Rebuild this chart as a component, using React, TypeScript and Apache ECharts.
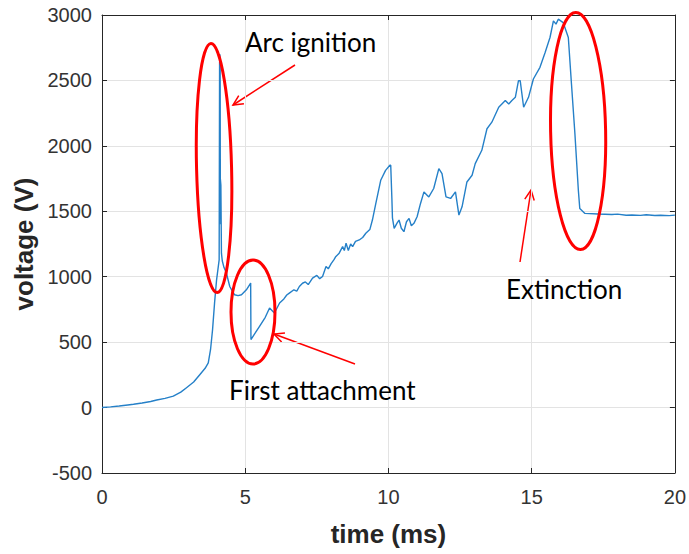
import React, { useEffect, useRef } from "react";
import * as echarts from "echarts";

// time (ms)
const times: number[] = [
  0, 0.3, 0.6, 0.9, 1.1, 1.4, 1.7, 1.91, 2.2, 2.49, 2.75, 2.95, 3.2, 3.42, 3.6, 3.71, 3.79, 3.86, 3.93, 4.0,
  4.09, 4.105, 4.11, 4.115, 4.12, 4.125, 4.13, 4.135, 4.15, 4.17, 4.2, 4.26, 4.34, 4.46, 4.55, 4.63, 4.75, 4.87,
  5.04, 5.19, 5.2, 5.35, 5.5, 5.7, 5.85, 6.02, 6.2, 6.35, 6.45, 6.54, 6.7, 6.8, 6.89, 7.0, 7.1, 7.2, 7.35, 7.5,
  7.6, 7.7, 7.82, 7.9, 8.0, 8.1, 8.15, 8.28, 8.4, 8.46, 8.52, 8.6, 8.68, 8.75, 8.85, 8.98, 9.1, 9.21, 9.35, 9.44,
  9.56, 9.73, 9.9, 10.05, 10.08, 10.12, 10.14, 10.2, 10.3, 10.37, 10.45, 10.54, 10.63, 10.72, 10.8, 10.89, 11.0,
  11.12, 11.24, 11.41, 11.58, 11.76, 11.87, 12.01, 12.17, 12.34, 12.46, 12.57, 12.74, 12.92, 13.03, 13.26, 13.44,
  13.61, 13.85, 14.08, 14.2, 14.31, 14.43, 14.54, 14.6, 14.72, 14.89, 15.06, 15.29, 15.47, 15.64, 15.76, 15.85,
  15.93, 16.1, 16.28, 16.39, 16.51, 16.63, 16.68, 16.86, 17.32, 17.8, 18.0, 18.3, 18.5, 18.8, 19.0, 19.3, 19.5,
  19.8, 20.0,
];

// voltage (V)
const volts: number[] = [
  0, 5, 12, 20, 25, 35, 46, 58, 70, 88, 118, 152, 195, 253, 300, 342, 444, 596, 800, 976,
  1129, 2640, 1400, 2700, 1800, 2640, 1750, 1740, 1700, 1180, 1120, 1070, 1030, 925, 890, 862, 855, 862,
  900, 951, 520, 570, 621, 690, 761, 723, 799, 830, 860, 875, 900, 890, 925, 950, 960, 940, 989, 1010,
  985, 1002, 1078, 1060, 1100, 1130, 1150, 1180, 1230, 1200, 1256, 1200, 1250, 1230, 1270, 1281, 1300, 1332, 1360, 1433,
  1560, 1737, 1813, 1852, 1852, 1600, 1450, 1370, 1410, 1433, 1370, 1344, 1420, 1446, 1390, 1408, 1458,
  1560, 1648, 1610, 1674, 1826, 1788, 1610, 1598, 1648, 1471, 1534, 1724, 1775, 1864, 1966, 2131,
  2181, 2295, 2346, 2320, 2346, 2371, 2498, 2498, 2295, 2371, 2511, 2600, 2714, 2828, 2955, 2930,
  2968, 2942, 2828, 2473, 2093, 1661, 1522, 1484, 1479, 1476, 1478, 1470, 1472, 1469, 1474, 1468, 1470,
  1467, 1471,
];

const xTicks = { min: 0, max: 20, interval: 5 };
const yTicks = { min: -500, max: 3000, interval: 500 };

const labelsText = ["Arc ignition", "First attachment", "Extinction"];

function arrow(x1: number, y1: number, x2: number, y2: number) {
  const dx = x2 - x1;
  const dy = y2 - y1;
  const len = Math.sqrt(dx * dx + dy * dy);
  const ux = dx / len;
  const uy = dy / len;
  const L = 11;
  const a = Math.PI / 7;
  const cos = Math.cos(a);
  const sin = Math.sin(a);
  const w1 = [x2 - L * (ux * cos - uy * sin), y2 - L * (uy * cos + ux * sin)];
  const w2 = [x2 - L * (ux * cos + uy * sin), y2 - L * (uy * cos - ux * sin)];
  const style = { stroke: "#ff0000", lineWidth: 1.5, fill: "none" };
  return [
    { type: "line", shape: { x1, y1, x2, y2 }, style },
    { type: "polyline", shape: { points: [w1, [x2, y2], w2] }, style },
  ];
}

export default function App() {
  const ref = useRef<HTMLDivElement>(null);
  useEffect(() => {
    if (!ref.current) return;
    const chart = echarts.init(ref.current, undefined, { renderer: "svg" });
    const data = times.map((t, i) => [t, volts[i]]);
    const axisColor = "#262626";
    const tickFont = {
      fontFamily: "'Liberation Sans', Arial, sans-serif",
      fontSize: 20,
      color: "#333333",
      formatter: (v: number) => String(v),
    };
    const ellStyle = { fill: "none", stroke: "#ff0000", lineWidth: 3 };
    const annFont = "26px Lato, 'Open Sans', sans-serif";
    chart.setOption({
      animation: false,
      backgroundColor: "#ffffff",
      grid: { left: 102, right: 12, top: 15, bottom: 81, containLabel: false },
      xAxis: [
        {
          type: "value",
          min: xTicks.min,
          max: xTicks.max,
          interval: xTicks.interval,
          name: "time (ms)",
          nameLocation: "middle",
          nameGap: 48,
          nameTextStyle: { fontFamily: "'Liberation Sans', Arial, sans-serif", fontSize: 26, fontWeight: "bold", color: "#262626" },
          axisLine: { show: true, onZero: false, lineStyle: { color: axisColor, width: 1 } },
          axisTick: { show: true, inside: true, length: 5, lineStyle: { color: axisColor } },
          axisLabel: { ...tickFont, margin: 14 },
          splitLine: { show: true, lineStyle: { color: "#e3e3e3", width: 1 } },
        },
        {
          type: "value",
          position: "top",
          min: xTicks.min,
          max: xTicks.max,
          interval: xTicks.interval,
          axisLine: { show: true, onZero: false, lineStyle: { color: axisColor, width: 1 } },
          axisTick: { show: true, inside: true, length: 5, lineStyle: { color: axisColor } },
          axisLabel: { show: false },
          splitLine: { show: false },
        },
      ],
      yAxis: [
        {
          type: "value",
          min: yTicks.min,
          max: yTicks.max,
          interval: yTicks.interval,
          name: "voltage (V)",
          nameLocation: "middle",
          nameGap: 64,
          nameTextStyle: { fontFamily: "'Liberation Sans', Arial, sans-serif", fontSize: 26, fontWeight: "bold", color: "#262626" },
          axisLine: { show: true, onZero: false, lineStyle: { color: axisColor, width: 1 } },
          axisTick: { show: true, inside: true, length: 5, lineStyle: { color: axisColor } },
          axisLabel: { ...tickFont, margin: 10 },
          splitLine: { show: true, lineStyle: { color: "#e3e3e3", width: 1 } },
        },
        {
          type: "value",
          position: "right",
          min: yTicks.min,
          max: yTicks.max,
          interval: yTicks.interval,
          axisLine: { show: true, onZero: false, lineStyle: { color: axisColor, width: 1 } },
          axisTick: { show: true, inside: true, length: 5, lineStyle: { color: axisColor } },
          axisLabel: { show: false },
          splitLine: { show: false },
        },
      ],
      series: [
        {
          type: "line",
          data,
          showSymbol: false,
          symbol: "none",
          clip: true,
          lineStyle: { color: "#2580c8", width: 1.4 },
          itemStyle: { color: "#2580c8" },
          z: 3,
        },
      ],
      graphic: [
        {
          type: "ellipse",
          shape: { cx: 214, cy: 168, rx: 17.5, ry: 124.5 },
          originX: 214,
          originY: 168,
          rotation: 0.025,
          style: ellStyle,
          z: 10,
        },
        {
          type: "ellipse",
          shape: { cx: 253, cy: 312, rx: 22, ry: 52 },
          style: ellStyle,
          z: 10,
        },
        {
          type: "ellipse",
          shape: { cx: 578, cy: 131, rx: 27.5, ry: 118.5 },
          originX: 578,
          originY: 131,
          rotation: 0.02,
          style: ellStyle,
          z: 10,
        },
        ...arrow(295, 65, 233, 105),
        ...arrow(355, 364, 274, 334),
        ...arrow(520, 262, 531, 190),
        {
          type: "text",
          x: 245,
          y: 42,
          style: { text: labelsText[0], font: annFont, fill: "#000000", textVerticalAlign: "middle" },
          z: 10,
        },
        {
          type: "text",
          x: 229,
          y: 390,
          style: { text: labelsText[1], font: annFont, fill: "#000000", textVerticalAlign: "middle" },
          z: 10,
        },
        {
          type: "text",
          x: 506,
          y: 289,
          style: { text: labelsText[2], font: annFont, fill: "#000000", textVerticalAlign: "middle" },
          z: 10,
        },
      ],
    });
    return () => chart.dispose();
  }, []);
  return (
    <div
      ref={ref}
      style={{ position: "fixed", left: 0, top: 0, width: 689, height: 554, background: "#fff" }}
    />
  );
}
